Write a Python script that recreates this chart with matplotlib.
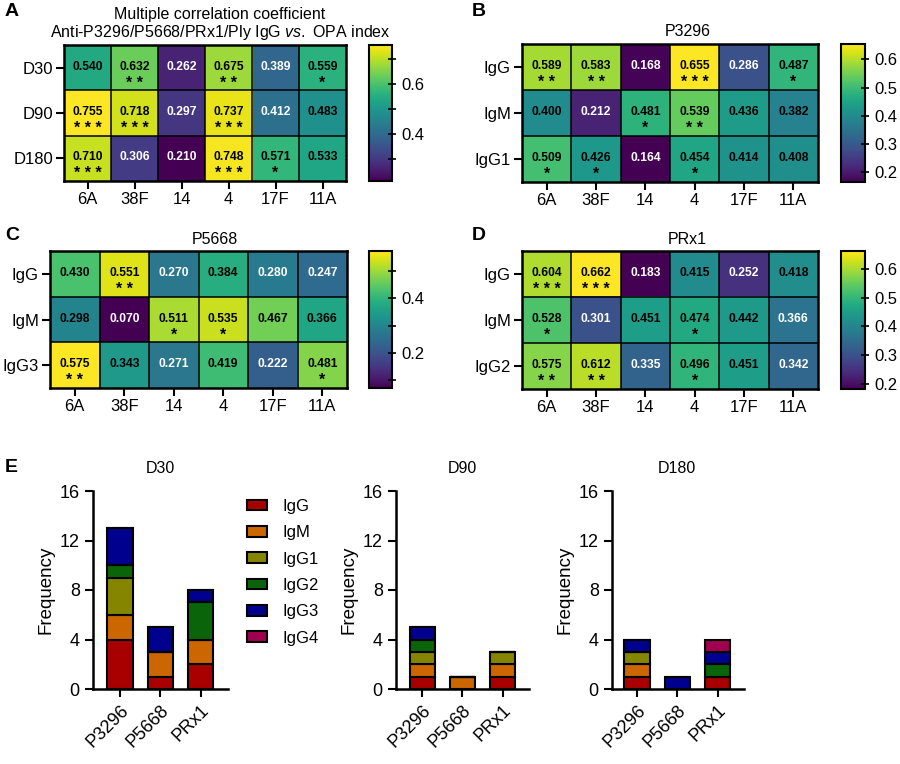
import numpy as np
import matplotlib
matplotlib.use("Agg")
import matplotlib.pyplot as plt
from matplotlib.patches import Patch

plt.rcParams["font.family"] = ["Liberation Sans", "DejaVu Sans"]
plt.rcParams["mathtext.fontset"] = "custom"
plt.rcParams["mathtext.rm"] = "Liberation Sans"
plt.rcParams["mathtext.it"] = "Liberation Sans:italic"

# ---------------- data ----------------
serotypes = ["6A", "38F", "14", "4", "17F", "11A"]

days = ["D30", "D90", "D180"]
vals_a = [[0.540, 0.632, 0.262, 0.675, 0.389, 0.559],
          [0.755, 0.718, 0.297, 0.737, 0.412, 0.483],
          [0.710, 0.306, 0.210, 0.748, 0.571, 0.533]]
stars_a = [["", "**", "", "**", "", "*"],
           ["***", "***", "", "***", "", ""],
           ["***", "", "", "***", "*", ""]]

rows_b = ["IgG", "IgM", "IgG1"]
vals_b = [[0.589, 0.583, 0.168, 0.655, 0.286, 0.487],
          [0.400, 0.212, 0.481, 0.539, 0.436, 0.382],
          [0.509, 0.426, 0.164, 0.454, 0.414, 0.408]]
stars_b = [["**", "**", "", "***", "", "*"],
           ["", "", "*", "**", "", ""],
           ["*", "*", "", "*", "", ""]]

rows_c = ["IgG", "IgM", "IgG3"]
vals_c = [[0.430, 0.551, 0.270, 0.384, 0.280, 0.247],
          [0.298, 0.070, 0.511, 0.535, 0.467, 0.366],
          [0.575, 0.343, 0.271, 0.419, 0.222, 0.481]]
stars_c = [["", "**", "", "", "", ""],
           ["", "", "*", "*", "", ""],
           ["**", "", "", "", "", "*"]]

rows_d = ["IgG", "IgM", "IgG2"]
vals_d = [[0.604, 0.662, 0.183, 0.415, 0.252, 0.418],
          [0.528, 0.301, 0.451, 0.474, 0.442, 0.366],
          [0.575, 0.612, 0.335, 0.496, 0.451, 0.342]]
stars_d = [["***", "***", "", "", "", ""],
           ["*", "", "", "*", "", ""],
           ["**", "**", "", "*", "", ""]]

antigens = ["P3296", "P5668", "PRx1"]
isotypes = ["IgG", "IgM", "IgG1", "IgG2", "IgG3", "IgG4"]
iso_colors = ["#A80000", "#CC6600", "#858500", "#0A650A", "#00008E", "#A0004F"]
# counts per isotype, one value per antigen
freq_d30 = {"IgG": [4, 1, 2], "IgM": [2, 2, 2], "IgG1": [3, 0, 0],
            "IgG2": [1, 0, 3], "IgG3": [3, 2, 1], "IgG4": [0, 0, 0]}
freq_d90 = {"IgG": [1, 0, 1], "IgM": [1, 1, 1], "IgG1": [1, 0, 1],
            "IgG2": [1, 0, 0], "IgG3": [1, 0, 0], "IgG4": [0, 0, 0]}
freq_d180 = {"IgG": [1, 0, 1], "IgM": [1, 0, 0], "IgG1": [1, 0, 0],
             "IgG2": [0, 0, 1], "IgG3": [1, 1, 1], "IgG4": [0, 0, 1]}

W, H = 900, 764
fig = plt.figure(figsize=(W / 100, H / 100), dpi=100)


def px_axes(x0, y0, x1, y1):
    return fig.add_axes([x0 / W, 1 - y1 / H, (x1 - x0) / W, (y1 - y0) / H])


def heatmap(box, cbox, vals, stars, rows, major, minor):
    ax = px_axes(*box)
    cax = px_axes(*cbox)
    v = np.array(vals)
    vmin, vmax = v.min(), v.max()
    im = ax.imshow(v, cmap="viridis", vmin=vmin, vmax=vmax, aspect="auto")
    for i in range(v.shape[0]):
        for j in range(v.shape[1]):
            c = "black" if (v[i, j] - vmin) / (vmax - vmin) > 0.43 else "white"
            ax.text(j, i - 0.02, f"{v[i, j]:.3f}", ha="center", va="center",
                    fontsize=8.7, fontweight="bold", color=c)
            if stars[i][j]:
                ax.text(j, i + 0.34, " ".join(stars[i][j]), ha="center",
                        va="center", fontsize=11.5, fontweight="bold", color=c)
    for k in range(1, v.shape[1]):
        ax.axvline(k - 0.5, color="black", lw=1.1)
    for k in range(1, v.shape[0]):
        ax.axhline(k - 0.5, color="black", lw=1.1)
    for s in ax.spines.values():
        s.set_linewidth(1.8)
    ax.set_xticks(range(len(serotypes)))
    ax.set_xticklabels(serotypes, fontsize=12)
    ax.set_yticks(range(len(rows)))
    ax.set_yticklabels(rows, fontsize=12)
    ax.tick_params(length=6, width=1.5, pad=2)
    cb = fig.colorbar(im, cax=cax)
    cb.outline.set_linewidth(1.5)
    cb.set_ticks(major)
    cb.ax.set_yticklabels([f"{t:.1f}" for t in major], fontsize=12)
    cb.ax.set_yticks(minor, minor=True)
    cb.ax.tick_params(which="both", direction="inout", length=6, width=1.2)
    return ax


heatmap((64, 45, 346, 181), (369, 45, 392, 181), vals_a, stars_a, days,
        [0.4, 0.6], [0.3, 0.5, 0.7])
heatmap((522, 44, 818, 182), (841, 44, 865, 182), vals_b, stars_b, rows_b,
        [0.2, 0.3, 0.4, 0.5, 0.6], [])
heatmap((50, 251, 347, 388), (369, 251, 392, 388), vals_c, stars_c, rows_c,
        [0.2, 0.4], [0.1, 0.3, 0.5])
heatmap((522, 251, 818, 389), (841, 251, 865, 389), vals_d, stars_d, rows_d,
        [0.2, 0.3, 0.4, 0.5, 0.6], [])

fig.text(220 / W, 1 - 14 / H, "Multiple correlation coefficient",
         ha="center", va="center", fontsize=11.5)
fig.text(220 / W, 1 - 32 / H,
         "Anti-P3296/P5668/PRx1/Ply IgG $\\mathit{vs.}$ OPA index",
         ha="center", va="center", fontsize=11.5)
fig.text(688 / W, 1 - 32 / H, "P3296", ha="center", va="center", fontsize=11.5)
fig.text(215 / W, 1 - 239 / H, "P5668", ha="center", va="center", fontsize=11.5)
fig.text(687 / W, 1 - 239 / H, "PRx1", ha="center", va="center", fontsize=11.5)

for letter, x, y in [("A", 12, 11), ("B", 479, 12), ("C", 12, 236),
                     ("D", 479, 236), ("E", 11, 467)]:
    fig.text(x / W, 1 - y / H, letter, ha="center", va="center",
             fontsize=14, fontweight="bold")

# ---------------- panel E ----------------
e_boxes = [(93, 491, 228, 689, -0.67), (396, 491, 529, 689, -0.65),
           (612, 491, 744, 689, -0.62)]
for (x0, y0, x1, y1, xl), title, freq in zip(
        e_boxes, ["D30", "D90", "D180"], [freq_d30, freq_d90, freq_d180]):
    ax = px_axes(x0, y0, x1, y1)
    x = np.arange(len(antigens))
    bottom = np.zeros(len(antigens))
    for iso, col in zip(isotypes, iso_colors):
        h = np.array(freq[iso])
        ax.bar(x, h, bottom=bottom, width=0.63, color=col,
               edgecolor="black", linewidth=1.5)
        bottom += h
    ax.set_xlim(xl, xl + (x1 - x0) / 40.3)
    ax.set_ylim(0, 16)
    ax.set_yticks([0, 4, 8, 12, 16])
    ax.set_xticks(x)
    ax.set_xticklabels(antigens, rotation=45, ha="right",
                       rotation_mode="anchor", fontsize=13)
    ax.tick_params(axis="y", labelsize=13, length=6, width=1.5)
    ax.tick_params(axis="x", length=6, width=1.5)
    ax.spines["top"].set_visible(False)
    ax.spines["right"].set_visible(False)
    ax.spines["left"].set_linewidth(1.8)
    ax.spines["bottom"].set_linewidth(1.8)
    ax.set_ylabel("Frequency", fontsize=13.5, labelpad=4)
    ax.text(1, 17.8, title, ha="center", va="center", fontsize=11.5)
    if title == "D30":
        handles = [Patch(facecolor=c, edgecolor="black", linewidth=1.5)
                   for c in iso_colors]
        ax.legend(handles, isotypes, loc="upper left",
                  bbox_to_anchor=(232 / W, 1 - 484 / H),
                  bbox_transform=fig.transFigure, frameon=False,
                  fontsize=12, handlelength=1.2, handleheight=0.6,
                  labelspacing=0.68, handletextpad=0.9)

fig.savefig("out.png", dpi=100)
